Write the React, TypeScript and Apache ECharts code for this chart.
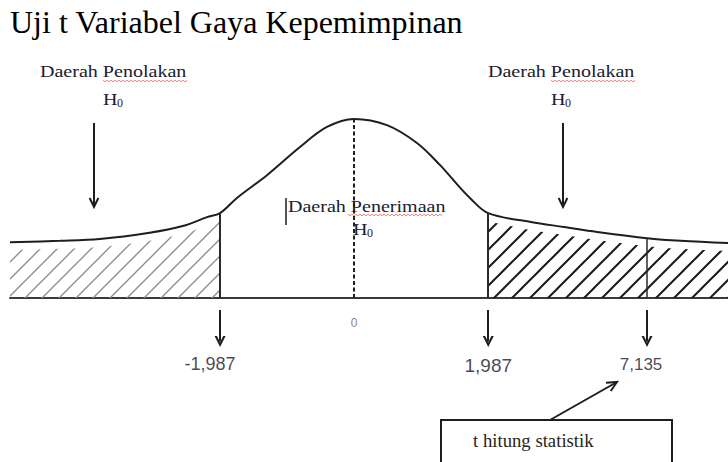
import React, { useEffect, useRef } from 'react';
import * as echarts from 'echarts';

// ---------- data ----------
const titleText = 'Uji t Variabel Gaya Kepemimpinan';
const criticalValues = [-1.987, 1.987];
const tStatistic = 7.135;
// the sketch is not drawn to scale: axis position (in drawn t units) where 7,135 is marked
const tStatisticDrawnAt = 4.34;
const centerValue = 0;
// bell curve as drawn: t position and height
const curveT = [-5.1, -4.36, -3.77, -3.03, -2.54, -2.18, -1.987, -1.737, -1.292, -0.803, -0.403, 0, 0.486, 0.931, 1.27, 1.523, 1.716, 1.987, 2.62, 3.11, 3.6, 4.34, 4.84, 5.54];
const curveH = [0.125, 0.128, 0.132, 0.146, 0.161, 0.181, 0.19, 0.224, 0.275, 0.338, 0.383, 0.401, 0.387, 0.347, 0.298, 0.255, 0.224, 0.19, 0.17, 0.159, 0.148, 0.134, 0.128, 0.123];
const rejectLabel = 'Daerah Penolakan';
const acceptLabel = 'Daerah Penerimaan';
const hypothesisLabel = 'H';
const hypothesisSub = '0';
const boxLabel = 't hitung statistik';

const serif = "'Liberation Serif', 'Times New Roman', serif";
const sans = "'Liberation Sans', Arial, sans-serif";
const fmt = (v: number) => v.toFixed(3).replace('.', ',');

function makeHatch(size: number, color: string, width: number) {
  const c = document.createElement('canvas');
  c.width = size;
  c.height = size;
  const ctx = c.getContext('2d')!;
  ctx.strokeStyle = color;
  ctx.lineWidth = width;
  ctx.lineCap = 'butt';
  [0, size, 2 * size].forEach((k) => {
    ctx.beginPath();
    ctx.moveTo(-size, k + size);
    ctx.lineTo(k + size, -size);
    ctx.stroke();
  });
  return c;
}

function arrow(x1: number, y1: number, x2: number, y2: number, color = '#1e1e1e', w = 2, head = 10) {
  const a = Math.atan2(y2 - y1, x2 - x1);
  const s = 0.45;
  const p1 = [x2 - head * Math.cos(a - s), y2 - head * Math.sin(a - s)];
  const p2 = [x2 - head * Math.cos(a + s), y2 - head * Math.sin(a + s)];
  return [
    { type: 'line', shape: { x1, y1, x2, y2 }, style: { stroke: color, lineWidth: w } },
    { type: 'polyline', shape: { points: [p1, [x2, y2], p2] }, style: { stroke: color, lineWidth: w, fill: null } },
  ];
}

function squiggle(x1: number, x2: number, y: number) {
  const pts: number[][] = [];
  let up = true;
  for (let x = x1; x <= x2; x += 2) {
    pts.push([x, y + (up ? -0.8 : 0.8)]);
    up = !up;
  }
  return { type: 'polyline', shape: { points: pts }, style: { stroke: '#f08080', lineWidth: 1, fill: null } };
}

function regionText(x: number, y: number, text: string) {
  return {
    type: 'text', x, y, scaleX: 1.18,
    style: { text, fontSize: 17, fontFamily: serif, fill: '#1c2030', verticalAlign: 'middle' },
  };
}

function hText(x: number, y: number) {
  return [
    { type: 'text', x, y, scaleX: 1.18, style: { text: hypothesisLabel, fontSize: 17, fontFamily: serif, fill: '#1c2030', verticalAlign: 'middle' } },
    { type: 'text', x: x + 14, y: y + 3, style: { text: hypothesisSub, fontSize: 12, fontFamily: serif, fill: '#1c2030', verticalAlign: 'middle' } },
  ];
}

export default function App() {
  const ref = useRef<HTMLDivElement>(null);
  useEffect(() => {
    if (!ref.current) return;
    const chart = echarts.init(ref.current, undefined, { renderer: 'svg' });

    const curve = curveT.map((t, i) => [t, curveH[i]]);
    const hatchGap = 0.018;
    const leftTail = curve.filter((p) => p[0] <= criticalValues[0]).map((p) => [p[0], p[1] - hatchGap]);
    const rightTail = curve.filter((p) => p[0] >= criticalValues[1]).map((p) => [p[0], p[1] - hatchGap]);
    const heightAt = (t: number) => curveH[curveT.indexOf(t)];

    const tickPositions = [criticalValues[0], criticalValues[1], tStatisticDrawnAt];
    const arrowTop = -0.027;
    const arrowEnd = -0.0975;
    const labelY = -0.148;

    const chevron = 'path://M0,10 L5,0 L10,10 L7.8,10 L5,4.2 L2.2,10 Z';

    const graphic: any[] = [
      { type: 'text', x: 10, y: 22, style: { text: titleText, fontSize: 32, fontFamily: serif, fill: '#000', verticalAlign: 'middle' } },
      regionText(40, 71.5, rejectLabel),
      ...hText(103, 99.5),
      squiggle(103, 187, 81),
      regionText(488, 71.5, rejectLabel),
      ...hText(551, 99.5),
      squiggle(551, 636, 81),
      ...arrow(94, 123, 94, 207),
      ...arrow(563, 123, 563, 207),
      regionText(288, 206.5, acceptLabel),
      ...hText(353, 229.5),
      squiggle(348, 442, 215),
      { type: 'line', shape: { x1: 286, y1: 198, x2: 286, y2: 225 }, style: { stroke: '#1e1e1e', lineWidth: 1.5 } },
      { type: 'rect', shape: { x: 441, y: 420, width: 231, height: 60 }, style: { fill: '#fff', stroke: '#1e1e1e', lineWidth: 2 } },
      { type: 'text', x: 473, y: 441.5, scaleX: 1.04, style: { text: boxLabel, fontSize: 18, fontFamily: serif, fill: '#2a2520', verticalAlign: 'middle' } },
      ...arrow(550, 420, 617, 382, '#1e1e1e', 2, 11),
    ];

    chart.setOption({
      animation: false,
      backgroundColor: '#fff',
      grid: { left: 10, right: 0, top: 97, bottom: 0 },
      xAxis: {
        type: 'value', min: -5.1, max: 5.54,
        axisLine: { show: true, onZero: true, lineStyle: { color: '#3a3a3a', width: 2 } },
        axisTick: { show: false }, axisLabel: { show: false }, splitLine: { show: false },
      },
      yAxis: { type: 'value', min: -0.3672, max: 0.45, show: false, splitLine: { show: false } },
      graphic,
      series: [
        {
          type: 'line', data: leftTail, smooth: 0.35, symbol: 'none', silent: true,
          lineStyle: { width: 0, opacity: 0 },
          areaStyle: { color: { image: makeHatch(17, '#8c8c8c', 1.3), repeat: 'repeat' }, opacity: 1 },
          z: 1,
        },
        {
          type: 'line', data: rightTail, smooth: 0.35, symbol: 'none', silent: true,
          lineStyle: { width: 0, opacity: 0 },
          areaStyle: { color: { image: makeHatch(18, '#1a1a1a', 2), repeat: 'repeat' }, opacity: 1 },
          z: 1,
        },
        {
          type: 'line', data: curve, smooth: 0.35, symbol: 'none', silent: true,
          lineStyle: { color: '#1e1e1e', width: 2 },
          z: 3,
          markLine: {
            silent: true, symbol: ['none', 'none'], label: { show: false },
            data: [
              ...criticalValues.map((cv) => [
                { coord: [cv, 0], lineStyle: { color: '#2a2a2a', width: 2, type: 'solid' } },
                { coord: [cv, heightAt(cv)] },
              ]),
              [
                { coord: [tStatisticDrawnAt, 0], lineStyle: { color: '#2a2a2a', width: 1.5, type: 'solid' } },
                { coord: [tStatisticDrawnAt, heightAt(tStatisticDrawnAt)] },
              ],
              [
                { coord: [centerValue, 0], lineStyle: { color: '#1e1e1e', width: 2, type: [4, 2.5] } },
                { coord: [centerValue, heightAt(centerValue)] },
              ],
            ],
          },
        },
        {
          type: 'scatter', symbolSize: 0, silent: true, z: 4,
          label: { show: true, position: 'inside', formatter: (p: any) => p.name, fontFamily: sans, color: '#15172a' },
          data: [
            { name: fmt(criticalValues[0]), value: [criticalValues[0], labelY], label: { fontSize: 18, offset: [-10, 0] } },
            { name: fmt(criticalValues[1]), value: [criticalValues[1], labelY - 0.004], label: { fontSize: 19, offset: [0, 0] } },
            { name: fmt(tStatistic), value: [tStatisticDrawnAt, labelY], label: { fontSize: 17, offset: [-6, 0] } },
            { name: String(centerValue), value: [centerValue, -0.056], label: { fontSize: 12, color: '#6e5c48' } },
          ],
          markLine: {
            silent: true, symbol: ['none', chevron], symbolSize: 11, label: { show: false },
            lineStyle: { color: '#1e1e1e', width: 2, type: 'solid' },
            data: tickPositions.map((t) => [{ coord: [t, arrowTop] }, { coord: [t, arrowEnd] }]),
          },
        },
      ],
    });
    return () => chart.dispose();
  }, []);
  return <div ref={ref} style={{ position: 'absolute', left: 0, top: 0, width: 728, height: 462 }} />;
}
